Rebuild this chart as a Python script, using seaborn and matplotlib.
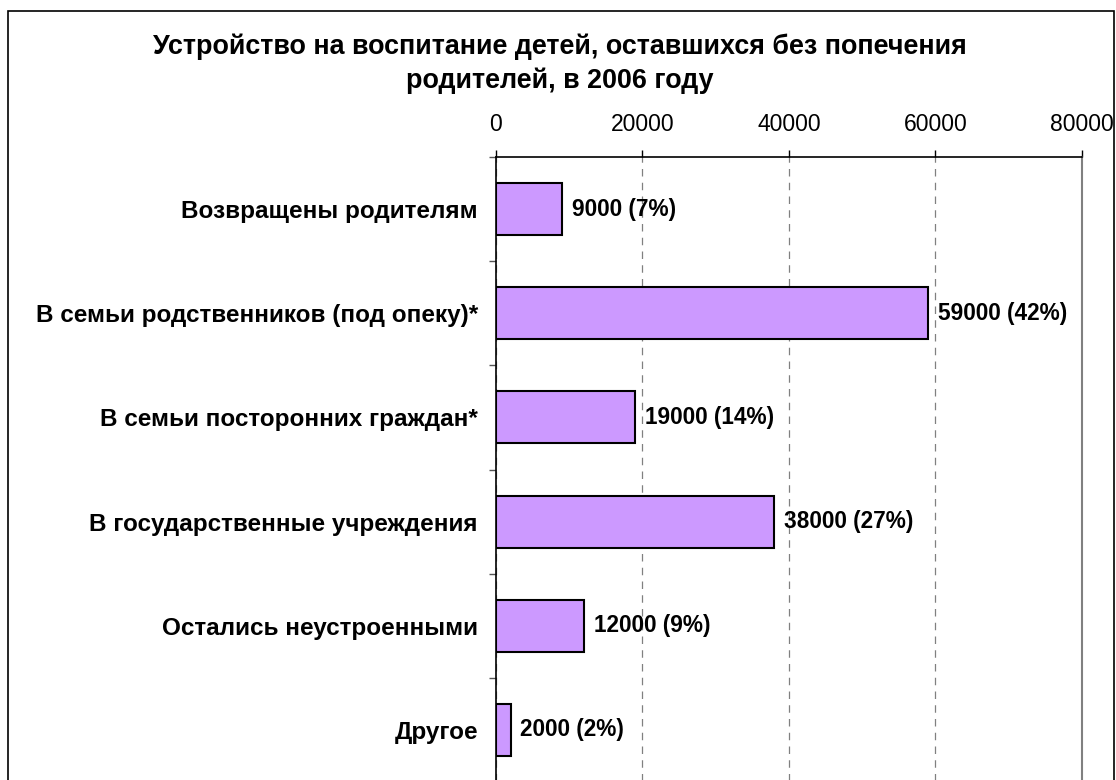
import pandas as pd
import matplotlib.pyplot as plt
import seaborn as sns
from matplotlib.ticker import FixedLocator

# ================== данные ==================
CATEGORIES = [
    "Возвращены родителям",
    "В семьи родственников (под опеку)*",
    "В семьи посторонних граждан*",
    "В государственные учреждения",
    "Остались неустроенными",
    "Другое",
]
COUNTS = [9000, 59000, 19000, 38000, 12000, 2000]
PERCENTS = [7, 42, 14, 27, 9, 2]
X_TICKS = [0, 20000, 40000, 60000, 80000]
TITLE = "Устройство на воспитание детей, оставшихся без попечения\nродителей, в 2006 году"
OUTPUT = "out.png"
# ===========================================


def plot_placement(df, save_path):
    """Горизонтальные столбцы, ось X сверху, как в Excel"""
    sns.set_theme(style="white")
    plt.rcParams["font.family"] = ["Liberation Sans", "DejaVu Sans"]
    plt.rcParams["text.color"] = "black"
    plt.rcParams["xtick.labelcolor"] = "black"
    plt.rcParams["ytick.labelcolor"] = "black"

    fig = plt.figure(figsize=(11.16, 7.8), dpi=100)
    ax = fig.add_axes([0.4444, -0.0026, 0.5251, 0.8013])

    sns.barplot(
        data=df,
        y="Category",
        x="Count",
        orient="h",
        color="#CC99FF",
        edgecolor="black",
        linewidth=1.5,
        width=0.5,
        saturation=1,
        ax=ax,
    )

    # подписи значений у концов столбцов
    labels = [f"{c} ({p}%)" for c, p in zip(df["Count"], df["Percent"])]
    ax.bar_label(ax.containers[0], labels=labels, padding=7,
                 fontsize=16.3, fontweight="bold", color="black")

    ax.set_xlim(X_TICKS[0], X_TICKS[-1])
    ax.set_ylim(len(df) - 0.5, -0.5)
    ax.xaxis.set_major_locator(FixedLocator(X_TICKS))
    ax.xaxis.tick_top()
    ax.tick_params(axis="x", direction="out", length=5, width=1, color="black",
                   labelsize=16.5, pad=10, top=True, bottom=False)
    ax.set_xlabel("")
    ax.set_ylabel("")

    # засечки слева — между категориями
    ax.yaxis.set_minor_locator(FixedLocator([i + 0.5 for i in range(-1, len(df))]))
    ax.tick_params(axis="y", which="major", length=0, pad=13, labelsize=17.5)
    ax.tick_params(axis="y", which="minor", left=True, direction="out",
                   length=5, width=1, color="#555555")
    for lbl in ax.get_yticklabels():
        lbl.set_fontweight("bold")

    ax.grid(axis="x", color="#808080", linestyle=(0, (6, 5)), linewidth=0.9)
    ax.set_axisbelow(True)
    for side in ["top", "left"]:
        ax.spines[side].set_color("black")
        ax.spines[side].set_linewidth(1.2)
    ax.spines["right"].set_color("#808080")
    ax.spines["right"].set_linewidth(1.5)
    ax.spines["bottom"].set_visible(False)

    fig.text(0.502, 1 - 34 / 780, TITLE, ha="center", va="top", fontsize=19.4,
             fontweight="bold", linespacing=1.32)

    # рамка вокруг всей диаграммы
    frame = plt.Rectangle((8 / 1116, -0.01), 1106 / 1116, 0.986 - (-0.01),
                          transform=fig.transFigure, fill=False,
                          edgecolor="black", linewidth=1.2)
    fig.patches.append(frame)

    fig.savefig(save_path, dpi=100)


def main():
    df = pd.DataFrame({"Category": CATEGORIES, "Count": COUNTS, "Percent": PERCENTS})
    plot_placement(df, OUTPUT)


if __name__ == "__main__":
    main()
